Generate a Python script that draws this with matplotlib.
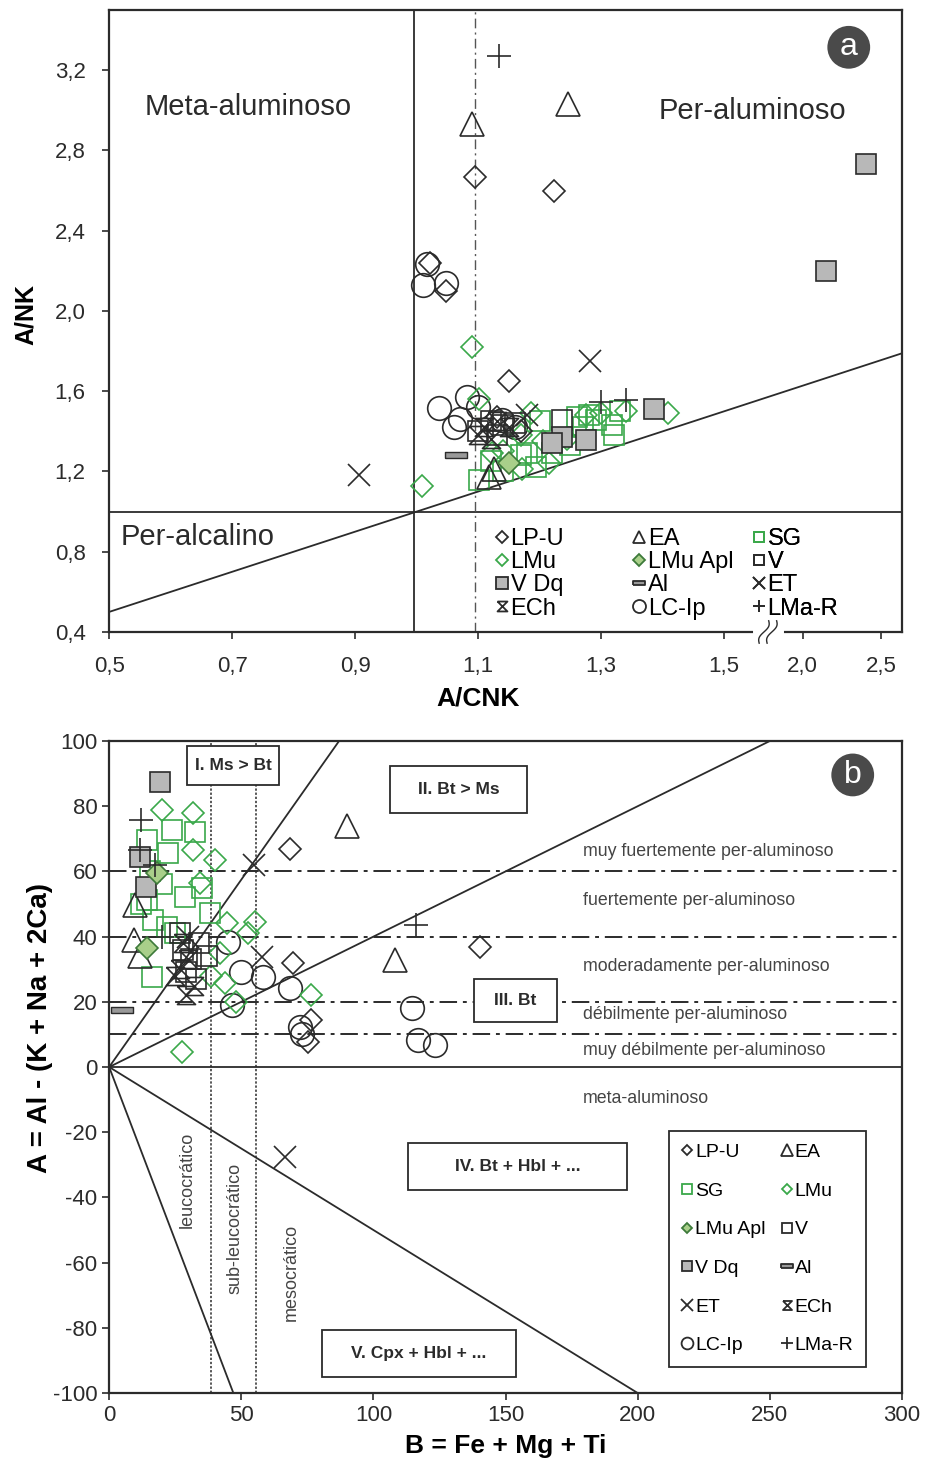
import matplotlib
matplotlib.use("Agg")
import matplotlib.pyplot as plt
import numpy as np
from matplotlib.lines import Line2D
from matplotlib.path import Path
from matplotlib.patches import Rectangle

plt.rcParams["font.family"] = ["Liberation Sans", "DejaVu Sans"]
plt.rcParams["axes.unicode_minus"] = False

# ---------------- panel a: A/CNK vs A/NK ----------------
a_lpu_x = [1.095, 1.224, 1.150, 1.048, 1.022, 1.13, 1.17]
a_lpu_y = [2.67, 2.60, 1.65, 2.10, 2.24, 1.47, 1.40]
a_ea_x = [1.090, 1.246, 1.117, 1.125]
a_ea_y = [2.93, 3.03, 1.17, 1.21]
a_sg_x = [1.317, 1.291, 1.33, 1.28, 1.20, 1.179, 1.194, 1.101, 1.14, 1.22, 1.25, 1.27, 1.17, 1.26, 1.32, 1.12]
a_sg_y = [1.43, 1.455, 1.50, 1.48, 1.45, 1.29, 1.22, 1.156, 1.20, 1.29, 1.33, 1.42, 1.28, 1.47, 1.38, 1.25]
a_lmu_x = [1.09, 1.009, 1.409, 1.341, 1.275, 1.186, 1.101, 1.122, 1.171, 1.17, 1.205, 1.14, 1.245, 1.215, 1.30]
a_lmu_y = [1.82, 1.13, 1.49, 1.50, 1.48, 1.49, 1.56, 1.29, 1.21, 1.38, 1.35, 1.30, 1.36, 1.24, 1.49]
a_apl_x = [1.150]
a_apl_y = [1.24]
a_v_x = [1.236, 1.12, 1.14, 1.10, 1.16, 1.13]
a_v_y = [1.455, 1.45, 1.43, 1.40, 1.44, 1.38]
a_vdq_x = [2.40, 2.15, 1.385, 1.236, 1.275, 1.22]
a_vdq_y = [2.73, 2.20, 1.51, 1.37, 1.355, 1.34]
a_al_x = [1.064]
a_al_y = [1.28]
a_et_x = [0.907, 1.281, 1.18]
a_et_y = [1.18, 1.753, 1.48]
a_ech_x = [1.11, 1.13, 1.10, 1.15, 1.12]
a_ech_y = [1.42, 1.45, 1.38, 1.42, 1.36]
a_lc_x = [1.017, 1.011, 1.048, 1.036, 1.082, 1.061, 1.139, 1.10, 1.16, 1.07]
a_lc_y = [2.236, 2.13, 2.14, 1.514, 1.57, 1.42, 1.455, 1.52, 1.42, 1.46]
a_lma_x = [1.134, 1.30, 1.341]
a_lma_y = [3.27, 1.544, 1.554]

a_xticks = [0.5, 0.7, 0.9, 1.1, 1.3, 1.5, 2.0, 2.5]
a_yticks = [0.4, 0.8, 1.2, 1.6, 2.0, 2.4, 2.8, 3.2]

# ---------------- panel b: B vs A ----------------
b_lpu_x = [68.5, 140.4, 69.6, 76.4, 75.3]
b_lpu_y = [66.9, 36.8, 31.9, 14.4, 7.7]
b_ea_x = [90, 108.2, 9.8, 9.5, 11.5]
b_ea_y = [73.9, 32.8, 49.7, 39, 34]
b_sg_x = [14.4, 23.8, 32.5, 22.3, 15.5, 28.8, 16.7, 21.9, 38.2, 16.3, 25, 14.4, 20, 35, 12]
b_sg_y = [69.6, 72.7, 72.1, 65.6, 60, 52.1, 45, 43, 47.2, 27.6, 41, 51.2, 56, 55, 50]
b_lmu_x = [20, 31.8, 31.8, 40.1, 34.4, 44.6, 55.2, 52.6, 43.9, 42, 27.6, 76.4, 38.5, 48]
b_lmu_y = [78.8, 77.9, 66.6, 63.5, 56.4, 44.2, 44.5, 41.1, 25.8, 35, 4.6, 22, 28, 20]
b_apl_x = [18.2, 14.4]
b_apl_y = [59.5, 36.5]
b_v_x = [28, 31, 34, 29, 33, 37, 27]
b_v_y = [36, 33, 38, 29, 27, 34, 41]
b_vdq_x = [19.3, 11.7, 14]
b_vdq_y = [87.4, 64.4, 55.2]
b_al_x = [4.9]
b_al_y = [17.5]
b_et_x = [54.9, 58, 66.6, 30]
b_et_y = [62, 33.7, -27.6, 40]
b_ech_x = [28, 30, 27, 32, 29, 25]
b_ech_y = [38, 33, 30, 25, 22, 28]
b_lc_x = [45, 58.3, 68.5, 46.5, 72.3, 114.6, 117, 123.3, 50, 73]
b_lc_y = [38.3, 27.6, 24.2, 19, 12.3, 18, 8.3, 6.7, 29, 10]
b_lma_x = [12.1, 11.7, 116.2, 17.4, 20]
b_lma_y = [75.8, 66.5, 43.6, 62, 40]

b_levels = [60, 40, 20, 10]
b_level_labels = ["muy fuertemente per-aluminoso", "fuertemente per-aluminoso",
                  "moderadamente per-aluminoso", "débilmente per-aluminoso",
                  "muy débilmente per-aluminoso", "meta-aluminoso"]
b_level_label_y = [66, 51.2, 30.7, 16, 5.2, -9.8]

GREEN = "#3aa84a"
DARK = "#2b2b2b"

hourglass = Path([(-1, 1), (1, 1), (-1, -1), (1, -1), (-1, 1)])
bar = Path([(-1, -0.28), (1, -0.28), (1, 0.28), (-1, 0.28), (-1, -0.28)])

styles = {
    "LP-U": dict(marker="D", mfc="none", mec=DARK, ms=11, mew=1.2),
    "EA": dict(marker="^", mfc="none", mec=DARK, ms=17, mew=1.2),
    "SG": dict(marker="s", mfc="none", mec=GREEN, ms=14, mew=1.2),
    "LMu": dict(marker="D", mfc="none", mec=GREEN, ms=11, mew=1.2),
    "LMu Apl": dict(marker="D", mfc="#a9cf8a", mec="#3d7a3a", ms=11, mew=1.2),
    "V": dict(marker="s", mfc="none", mec=DARK, ms=14, mew=1.2),
    "V Dq": dict(marker="s", mfc="#b8b8b8", mec=DARK, ms=15, mew=1.2),
    "Al": dict(marker=bar, mfc="#999999", mec=DARK, ms=16, mew=1.0),
    "ET": dict(marker="x", mfc="none", mec=DARK, ms=16, mew=1.2),
    "ECh": dict(marker=hourglass, mfc="none", mec=DARK, ms=13, mew=1.2),
    "LC-Ip": dict(marker="o", mfc="none", mec=DARK, ms=17, mew=1.2),
    "LMa-R": dict(marker="+", mfc="none", mec=DARK, ms=17, mew=1.2),
}

a_groups = [
    ("LC-Ip", a_lc_x, a_lc_y), ("SG", a_sg_x, a_sg_y), ("LMu", a_lmu_x, a_lmu_y),
    ("V", a_v_x, a_v_y), ("ECh", a_ech_x, a_ech_y), ("LP-U", a_lpu_x, a_lpu_y),
    ("EA", a_ea_x, a_ea_y), ("V Dq", a_vdq_x, a_vdq_y), ("LMu Apl", a_apl_x, a_apl_y),
    ("Al", a_al_x, a_al_y), ("ET", a_et_x, a_et_y), ("LMa-R", a_lma_x, a_lma_y),
]
b_groups = [
    ("LC-Ip", b_lc_x, b_lc_y), ("SG", b_sg_x, b_sg_y), ("LMu", b_lmu_x, b_lmu_y),
    ("V", b_v_x, b_v_y), ("ECh", b_ech_x, b_ech_y), ("LP-U", b_lpu_x, b_lpu_y),
    ("EA", b_ea_x, b_ea_y), ("V Dq", b_vdq_x, b_vdq_y), ("LMu Apl", b_apl_x, b_apl_y),
    ("Al", b_al_x, b_al_y), ("ET", b_et_x, b_et_y), ("LMa-R", b_lma_x, b_lma_y),
]

# broken x axis: linear up to B1, compressed after B2
B1, B2, K = 1.566, 1.76, 158 / 617


def fwd(x):
    x = np.asarray(x, dtype=float)
    return np.where(x <= B1, x, np.where(x < B2, B1, B1 + (x - B2) * K))


def inv(y):
    y = np.asarray(y, dtype=float)
    return np.where(y <= B1, y, B2 + (y - B1) / K)


def legend_handle(name, scale):
    st = dict(styles[name])
    st["ms"] = st["ms"] * scale
    st["mew"] = 1.3
    return Line2D([], [], linestyle="none", label=name, **st)


fig = plt.figure(figsize=(9.25, 14.68), dpi=100)
ax = fig.add_axes([0.118, 0.5695, 0.857, 0.4237])
bx = fig.add_axes([0.118, 0.0511, 0.857, 0.4441])

# ---- panel a ----
ax.set_xscale("function", functions=(fwd, inv))
ax.set_xlim(0.5, 2.63)
ax.set_ylim(0.4, 3.5)
ax.axvline(0.995, color=DARK, lw=1.3)
ax.axhline(1.0, color=DARK, lw=1.3)
ax.axvline(1.095, color="#555555", lw=1.0, ls=(0, (7, 3, 1.5, 3)))
xe = 2.63
ax.plot([0.5, xe], [0.5, float(fwd(xe))], color=DARK, lw=1.3)

for name, xs, ys in a_groups:
    ax.plot(xs, ys, linestyle="none", **styles[name])

ax.set_xticks(a_xticks)
ax.set_xticklabels([f"{v:.1f}".replace(".", ",") for v in a_xticks])
ax.set_yticks(a_yticks)
ax.set_yticklabels([f"{v:.1f}".replace(".", ",") for v in a_yticks])
ax.minorticks_off()
ax.set_xlabel("A/CNK", fontsize=19, fontweight="bold")
ax.xaxis.set_label_coords(0.465, -0.088)
ax.set_ylabel("A/NK", fontsize=18, fontweight="bold")
ax.yaxis.set_label_coords(-0.09, 0.51)

ax.text(0.045, 0.844, "Meta-aluminoso", transform=ax.transAxes, fontsize=21, va="center", color=DARK)
ax.text(0.811, 0.838, "Per-aluminoso", transform=ax.transAxes, fontsize=21, va="center", ha="center", color=DARK)
ax.text(0.014, 0.153, "Per-alcalino", transform=ax.transAxes, fontsize=21, va="center", color=DARK)
ax.text(0.933, 0.94, "a", transform=ax.transAxes, fontsize=23, color="white", ha="center", va="center",
        bbox=dict(boxstyle="circle,pad=0.2", fc="#4a4a4a", ec="none"))

# legend of panel a: three columns placed separately
cols_a = [["LP-U", "LMu", "V Dq", "ECh"], ["EA", "LMu Apl", "Al", "LC-Ip"], ["SG", "V", "ET", "LMa-R"]]
col_x = [0.487, 0.660, 0.811]
for names, cx in zip(cols_a, col_x):
    lg = ax.legend(handles=[legend_handle(n, 0.55) for n in names], loc="lower left",
                   bbox_to_anchor=(cx, 0.02), frameon=False, fontsize=17, handlelength=0.55,
                   handletextpad=0.1, labelspacing=0.05, borderpad=0.0, borderaxespad=0.0)
    ax.add_artist(lg)

# axis break mark on bottom spine
ax.plot([0.816, 0.846], [0, 0], transform=ax.transAxes, color="white", lw=5, clip_on=False, zorder=5)
tt = np.linspace(-1, 1, 30)
for x0 in (0.826, 0.836):
    ax.plot(x0 + 0.006 * tt + 0.003 * np.sin(tt * np.pi), 0.018 * tt, transform=ax.transAxes,
            color=DARK, lw=1.0, clip_on=False, zorder=6)

# ---- panel b ----
bx.set_xlim(0, 300)
bx.set_ylim(-100, 100)
bx.axhline(0, color=DARK, lw=1.3)
for lv in b_levels:
    bx.axhline(lv, color=DARK, lw=1.4, ls=(0, (9, 3, 2, 3)))
bx.axvline(38.7, color=DARK, lw=1.1, ls=(0, (1.5, 1.2)))
bx.axvline(55.6, color=DARK, lw=1.1, ls=(0, (1.5, 1.2)))
bx.plot([0, 87], [0, 100], color=DARK, lw=1.3)
bx.plot([0, 250], [0, 100], color=DARK, lw=1.3)
bx.plot([0, 47], [0, -100], color=DARK, lw=1.3)
bx.plot([0, 200], [0, -100], color=DARK, lw=1.3)

for txt, yy in zip(b_level_labels, b_level_label_y):
    bx.text(179.3, yy, txt, fontsize=12.8, color="#444444", va="center")

boxes = [
    ("I. Ms > Bt", 29.5, 86.5, 34.8, 12.0),
    ("II. Bt > Ms", 106.3, 77.9, 51.9, 14.4),
    ("III. Bt", 138.1, 13.8, 31.4, 13.2),
    ("IV. Bt + Hbl + ...", 113.1, -37.7, 82.9, 14.4),
    ("V. Cpx + Hbl + ...", 80.6, -95.1, 73.4, 14.4),
]
for txt, x0, y0, w, h in boxes:
    bx.add_patch(Rectangle((x0, y0), w, h, fc="white", ec=DARK, lw=1.3, zorder=4))
    bx.text(x0 + w / 2, y0 + h / 2, txt, fontsize=12.5, fontweight="bold", ha="center", va="center",
            color=DARK, zorder=5)

bx.text(29.4, -34.7, "leucocrático", rotation=90, fontsize=13, ha="center", va="center", color="#444444")
bx.text(47.7, -49.4, "sub-leucocrático", rotation=90, fontsize=13, ha="center", va="center", color="#444444")
bx.text(69.1, -62.9, "mesocrático", rotation=90, fontsize=13, ha="center", va="center", color="#444444")

for name, xs, ys in b_groups:
    bx.plot(xs, ys, linestyle="none", zorder=3, **styles[name])

bx.set_xticks([0, 50, 100, 150, 200, 250, 300])
bx.set_yticks(np.arange(-100, 101, 20))
bx.set_xlabel("B = Fe + Mg + Ti", fontsize=19, fontweight="bold", labelpad=6)
bx.set_ylabel("A = Al - (K + Na + 2Ca)", fontsize=20, fontweight="bold")
bx.yaxis.set_label_coords(-0.071, 0.56)
bx.text(0.938, 0.948, "b", transform=bx.transAxes, fontsize=23, color="white", ha="center", va="center",
        bbox=dict(boxstyle="circle,pad=0.2", fc="#4a4a4a", ec="none"))

order_b = ["LP-U", "SG", "LMu Apl", "V Dq", "ET", "LC-Ip", "EA", "LMu", "V", "Al", "ECh", "LMa-R"]
leg_b = bx.legend(handles=[legend_handle(n, 0.5) for n in order_b], ncol=2, loc="lower right",
                  bbox_to_anchor=(0.955, 0.04), fontsize=14, handlelength=0.6, handletextpad=0.1,
                  columnspacing=0.8, labelspacing=1.08, borderpad=0.65, borderaxespad=0.0,
                  fancybox=False, edgecolor=DARK, framealpha=1)
leg_b.get_frame().set_linewidth(1.3)
leg_b.set_zorder(6)

for a in (ax, bx):
    for sp in a.spines.values():
        sp.set_linewidth(1.6)
        sp.set_color(DARK)
    a.tick_params(labelsize=16, colors=DARK, direction="out", length=5, width=1.2)
ax.tick_params(pad=12)

fig.savefig("out.png", dpi=100)
